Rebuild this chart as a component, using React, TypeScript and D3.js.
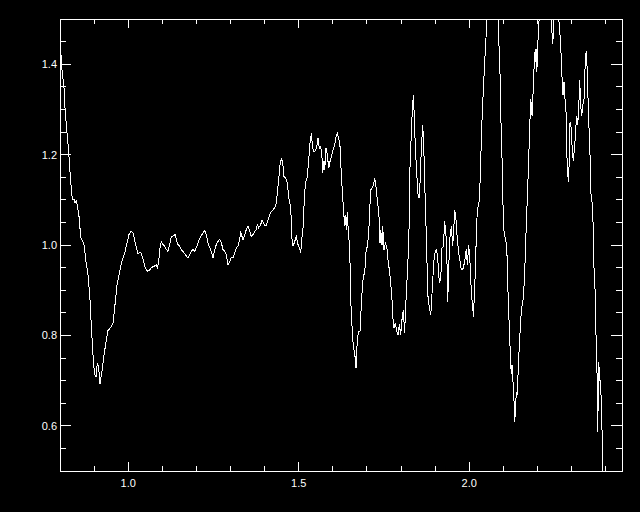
import React from "react";
import * as d3 from "d3";

// wavelength (micron) and normalised flux
const wavelength = [
  0.8015, 0.8059, 0.8117, 0.8147, 0.8191, 0.8249, 0.8293, 0.8337, 0.8367, 0.8411,
  0.844, 0.8484, 0.8528, 0.8572, 0.8601, 0.8645, 0.8704, 0.8762, 0.8821, 0.888,
  0.8924, 0.8968, 0.9012, 0.9056, 0.9094, 0.9129, 0.9173, 0.9202, 0.9246, 0.9305,
  0.9364, 0.9408, 0.9481, 0.9554, 0.9613, 0.9672, 0.973, 0.9789, 0.9848, 0.9906,
  0.9965, 1.0023, 1.0082, 1.0141, 1.0185, 1.0229, 1.0287,
  1.0367, 1.0425, 1.0484, 1.0551, 1.063, 1.0677, 1.0757, 1.0824, 1.0853, 1.0894,
  1.0924, 1.0971, 1.1021, 1.107, 1.1117, 1.1167, 1.1217, 1.1264, 1.1314, 1.1381,
  1.1422, 1.146, 1.151, 1.1557, 1.1636, 1.1704, 1.1754, 1.1804, 1.185, 1.19,
  1.195, 1.1997, 1.2047, 1.2097, 1.2164, 1.2243, 1.229, 1.234, 1.239, 1.2437,
  1.2487, 1.2537, 1.2584, 1.2633,
  1.2683, 1.273, 1.278, 1.283, 1.2877, 1.2927, 1.2977, 1.3023, 1.3073, 1.3123,
  1.317, 1.322, 1.327, 1.3299, 1.3337, 1.3367, 1.3416, 1.3463, 1.3513, 1.3563,
  1.361, 1.366, 1.371, 1.3757, 1.3786, 1.3827, 1.3886, 1.3924, 1.3962, 1.4003,
  1.405, 1.41, 1.415, 1.4196, 1.4246, 1.4296, 1.4343, 1.4372, 1.4413, 1.4443,
  1.449, 1.4531, 1.4569, 1.4607, 1.4648, 1.4686, 1.4724, 1.4765, 1.4783, 1.4804,
  1.4833, 1.4883, 1.493, 1.4979,
  1.5029, 1.5059, 1.5097, 1.5126, 1.5155, 1.5194, 1.5252, 1.5293, 1.5331, 1.537,
  1.5411, 1.5449, 1.5487, 1.5528, 1.5566, 1.5604, 1.5645, 1.5683, 1.5704, 1.5742,
  1.5762, 1.5801, 1.5839, 1.588, 1.5918, 1.5956, 1.6006, 1.6056, 1.6103, 1.6132,
  1.6173, 1.6211, 1.6232, 1.627, 1.6308, 1.6349, 1.6367, 1.6396, 1.6425, 1.6446,
  1.6475, 1.6504, 1.6525, 1.6563, 1.6601, 1.6642, 1.668, 1.6718, 1.676, 1.6798,
  1.6819, 1.6856, 1.6894, 1.6935, 1.6974, 1.7012, 1.7053, 1.7082, 1.7111, 1.715,
  1.7188, 1.7229, 1.7267, 1.7305, 1.7346, 1.7364,
  1.7384, 1.7405, 1.7443, 1.7463, 1.7501, 1.754, 1.7581, 1.7619, 1.7657, 1.7698,
  1.7736, 1.7757, 1.7795, 1.7833, 1.7874, 1.7912, 1.795, 1.7991, 1.8029, 1.8067,
  1.8108, 1.8126, 1.8167, 1.8205, 1.8243, 1.8264, 1.8302, 1.8331, 1.8361, 1.8381,
  1.8419, 1.846, 1.8499, 1.8528, 1.8557, 1.8595, 1.8636, 1.8666, 1.8695, 1.8713,
  1.8754, 1.8771, 1.8792, 1.883, 1.8871, 1.8889, 1.893, 1.8968, 1.9006, 1.9047,
  1.9085, 1.9123, 1.9164, 1.9202, 1.924, 1.9282, 1.932, 1.9349, 1.937, 1.9399,
  1.9437, 1.9475, 1.9516, 1.9545, 1.9575, 1.9613, 1.9651, 1.9692, 1.973, 1.9768,
  1.9818, 1.9868, 1.9915, 1.9944, 1.9985, 2.0015, 2.0044, 2.0062, 2.0103, 2.012,
  2.0141, 2.0179, 2.0208, 2.0238, 2.0279, 2.0308, 2.0337, 2.0375, 2.0413, 2.0472,
  2.0513, 2.0551, 2.0669, 2.0786, 2.0845, 2.0865, 2.0894, 2.0924, 2.0941, 2.0962,
  2.0991, 2.1021, 2.1059, 2.11, 2.1117, 2.1138, 2.1158, 2.1188, 2.1217, 2.1235,
  2.1255, 2.1284, 2.1305, 2.1334, 2.1352, 2.1381, 2.1411, 2.144, 2.1481, 2.151,
  2.1548, 2.1587, 2.1628, 2.1666, 2.1695, 2.1724, 2.1745, 2.1763, 2.1783, 2.1804,
  2.1821, 2.1842, 2.1862, 2.188, 2.19, 2.1921, 2.1938, 2.1959, 2.1979, 2.1997,
  2.2018, 2.2038, 2.2076, 2.2223, 2.237, 2.2413, 2.2449, 2.2487, 2.2545, 2.2604,
  2.2654, 2.2701, 2.273, 2.2751, 2.278, 2.2801, 2.2839, 2.2859, 2.2877, 2.2918,
  2.2935, 2.2956, 2.2994, 2.3023, 2.3053, 2.3094, 2.3123, 2.3153, 2.3182, 2.3211,
  2.324, 2.327, 2.3299, 2.3328, 2.3367, 2.3405, 2.3434, 2.3463, 2.3484, 2.3513,
  2.3543, 2.3563, 2.3601, 2.363, 2.366, 2.3689, 2.3718, 2.3739, 2.3757, 2.3768,
  2.3777, 2.3798, 2.3827, 2.3856, 2.3874, 2.3903, 2.3915, 2.3953,
];

const flux = [
  1.438, 1.387, 1.348, 1.303, 1.259, 1.211, 1.162, 1.118, 1.1, 1.102,
  1.093, 1.098, 1.078, 1.056, 1.018, 1.012, 1.001, 0.963, 0.934, 0.879,
  0.813, 0.757, 0.713, 0.709, 0.738, 0.733, 0.693, 0.707, 0.729, 0.764,
  0.791, 0.811, 0.817, 0.826, 0.868, 0.912, 0.934, 0.956, 0.972, 0.985,
  1.005, 1.023, 1.031, 1.027, 1.012, 0.998, 0.981,
  0.984, 0.972, 0.953, 0.942, 0.945, 0.95, 0.953, 0.956, 0.95, 0.961,
  0.99, 1.008, 1.001, 0.997, 0.99, 0.986, 1.001, 1.019, 1.02, 1.023,
  1.008, 1.001, 0.997, 0.99, 0.983, 0.976, 0.971, 0.978, 0.986, 0.99,
  0.986, 0.994, 1.005, 1.014, 1.023, 1.032, 1.023, 1.005, 0.994, 0.986,
  0.971, 0.99, 1.001, 1.008,
  1.012, 1.005, 0.99, 0.986, 0.978, 0.956, 0.964, 0.972, 0.972, 0.983,
  0.994, 0.998, 1.012, 1.03, 1.019, 1.012, 1.023, 1.034, 1.041, 1.03,
  1.019, 1.023, 1.03, 1.034, 1.045, 1.038, 1.045, 1.056, 1.049, 1.043,
  1.043, 1.056, 1.067, 1.074, 1.078, 1.082, 1.093, 1.115, 1.144, 1.174,
  1.192, 1.182, 1.151, 1.149, 1.144, 1.122, 1.096, 1.085, 1.049, 1.012,
  0.997, 1.008, 1.019, 1.001,
  0.993, 0.982, 1.019, 1.038, 1.085, 1.137, 1.151, 1.188, 1.225, 1.247,
  1.214, 1.207, 1.208, 1.218, 1.236, 1.214, 1.218, 1.192, 1.159, 1.185,
  1.166, 1.214, 1.199, 1.17, 1.185, 1.196, 1.21, 1.222, 1.244, 1.247,
  1.236, 1.218, 1.181, 1.129, 1.085, 1.041, 1.067, 1.034, 1.074, 1.041,
  1.012, 0.96, 0.879, 0.82, 0.776, 0.761, 0.728, 0.791, 0.809, 0.81,
  0.842, 0.894, 0.931, 0.938, 0.986, 0.997, 1.026, 1.078, 1.122, 1.126,
  1.133, 1.148, 1.129, 1.1, 1.071, 1.052,
  1.004, 1.034, 1.001, 1.041, 0.99, 1.004, 0.997, 0.967, 0.945, 0.916,
  0.879, 0.842, 0.816, 0.827, 0.809, 0.802, 0.824, 0.802, 0.835, 0.857,
  0.805, 0.85, 0.908, 0.967, 1.056, 1.174, 1.247, 1.299, 1.332, 1.299,
  1.218, 1.159, 1.111, 1.104, 1.137, 1.21, 1.266, 1.218, 1.144, 1.085,
  0.997, 0.923, 0.886, 0.861, 0.846, 0.864, 0.923, 0.967, 0.986, 0.99,
  0.96, 0.916, 0.923, 0.993, 0.997, 1.052, 1.019, 0.956, 0.875, 0.953,
  1.019, 1.041, 0.997, 1.034, 1.078, 1.056, 1.012, 0.982, 0.964, 0.945,
  0.948, 0.963, 0.992, 0.955, 0.999, 0.97, 0.933, 0.888, 0.866, 0.841,
  0.874, 0.94, 1.021, 1.08, 1.087, 1.117, 1.188, 1.277, 1.343, 1.431,
  1.487, 1.531, 1.586, 1.542, 1.5, 1.456, 1.404, 1.316, 1.22, 1.191,
  1.087, 1.029, 1.014, 0.999, 0.955, 0.896, 0.852, 0.793, 0.734, 0.715,
  0.735, 0.697, 0.675, 0.609, 0.631, 0.675, 0.668, 0.734, 0.793, 0.837,
  0.866, 0.881, 0.94, 1.029, 1.087, 1.146, 1.191, 1.235, 1.279, 1.323,
  1.308, 1.286, 1.316, 1.353, 1.39, 1.426, 1.404, 1.434, 1.382, 1.404,
  1.456, 1.485, 1.531, 1.564, 1.531, 1.487, 1.445, 1.498, 1.531, 1.515,
  1.476, 1.412, 1.353, 1.331, 1.36, 1.331, 1.294, 1.22, 1.161, 1.139,
  1.21, 1.272, 1.257, 1.205, 1.187, 1.22, 1.257, 1.286, 1.266, 1.301,
  1.364, 1.308, 1.286, 1.31, 1.323, 1.412, 1.43, 1.382, 1.323, 1.257,
  1.198, 1.117, 1.095, 1.051, 0.948, 0.903, 0.8, 0.741, 0.69, 0.587,
  0.636, 0.741, 0.704, 0.69, 0.645, 0.565, 0.501, 0.437,
];

const xMajorTicks = [1.0, 1.5, 2.0];
const xMinorTicks = [0.9, 1.1, 1.2, 1.3, 1.4, 1.6, 1.7, 1.8, 1.9, 2.1, 2.2, 2.3, 2.4];
const yMajorTicks = [0.6, 0.8, 1.0, 1.2, 1.4];
const yMinorTicks = [0.55, 0.65, 0.7, 0.75, 0.85, 0.9, 0.95, 1.05, 1.1, 1.15, 1.25, 1.3, 1.35, 1.45];

const W = 640;
const H = 512;
const margin = { top: 19, right: 18, bottom: 41, left: 60 };

export default function App() {
  const x = d3
    .scaleLinear()
    .domain([0.8, 2.448])
    .range([margin.left, W - margin.right]);
  const y = d3
    .scaleLinear()
    .domain([0.5, 1.5])
    .range([H - margin.bottom, margin.top]);

  const pts: [number, number][] = wavelength.map((w, i) => [w, flux[i]]);
  const line = d3
    .line<[number, number]>()
    .x((d) => x(d[0]))
    .y((d) => y(d[1]));

  const left = margin.left;
  const right = W - margin.right;
  const top = margin.top;
  const bottom = H - margin.bottom;
  const font = "'Liberation Sans', Arial, sans-serif";

  return (
    <svg
      width={W}
      height={H}
      style={{ position: "fixed", left: 0, top: 0, background: "#000" }}
    >
      <rect x={0} y={0} width={W} height={H} fill="#000" />
      <defs>
        <clipPath id="plotArea">
          <rect x={left} y={top} width={right - left} height={bottom - top} />
        </clipPath>
      </defs>
      <path
        d={line(pts) || ""}
        fill="none"
        stroke="#fff"
        strokeWidth={1}
        shapeRendering="crispEdges"
        clipPath="url(#plotArea)"
      />
      <g stroke="#fff" strokeWidth={1} shapeRendering="crispEdges">
        <rect x={left} y={top} width={right - left} height={bottom - top} fill="none" />
        {xMajorTicks.map((t) => (
          <g key={"xM" + t}>
            <line x1={x(t)} x2={x(t)} y1={bottom} y2={bottom - 9} />
            <line x1={x(t)} x2={x(t)} y1={top} y2={top + 9} />
          </g>
        ))}
        {xMinorTicks.map((t) => (
          <g key={"xm" + t}>
            <line x1={x(t)} x2={x(t)} y1={bottom} y2={bottom - 5} />
            <line x1={x(t)} x2={x(t)} y1={top} y2={top + 5} />
          </g>
        ))}
        {yMajorTicks.map((t) => (
          <g key={"yM" + t}>
            <line x1={left} x2={left + 11} y1={y(t)} y2={y(t)} />
            <line x1={right} x2={right - 11} y1={y(t)} y2={y(t)} />
          </g>
        ))}
        {yMinorTicks.map((t) => (
          <g key={"ym" + t}>
            <line x1={left} x2={left + 6} y1={y(t)} y2={y(t)} />
            <line x1={right} x2={right - 6} y1={y(t)} y2={y(t)} />
          </g>
        ))}
      </g>
      <g fill="#fff" fontFamily={font} fontSize={11}>
        {xMajorTicks.map((t) => (
          <text key={"xl" + t} x={x(t)} y={bottom + 16} textAnchor="middle">
            {t.toFixed(1)}
          </text>
        ))}
        {yMajorTicks.map((t) => (
          <text key={"yl" + t} x={left - 3} y={y(t) + 4} textAnchor="end">
            {t.toFixed(1)}
          </text>
        ))}
      </g>
    </svg>
  );
}
